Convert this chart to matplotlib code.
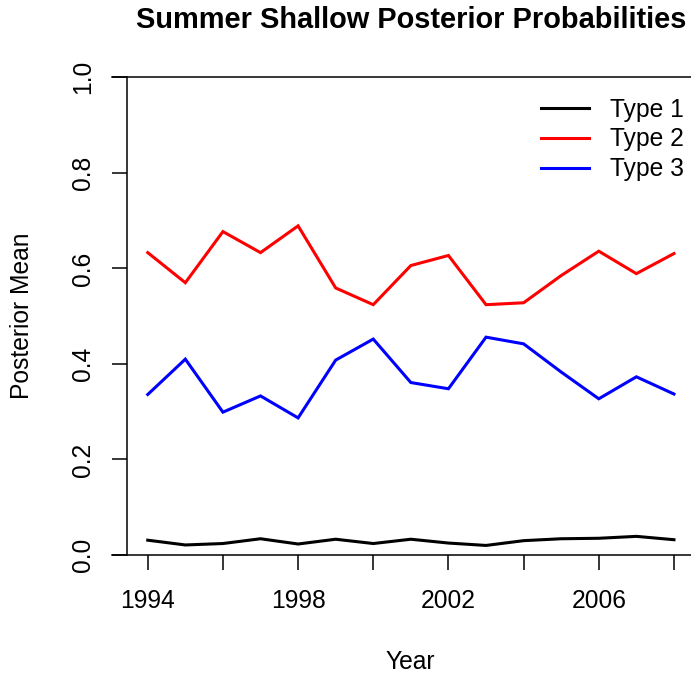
import matplotlib
matplotlib.use("Agg")
import matplotlib.pyplot as plt

years = list(range(1994, 2009))
type1 = [0.031, 0.021, 0.024, 0.034, 0.023, 0.033, 0.024, 0.033, 0.025, 0.020, 0.030, 0.034, 0.035, 0.039, 0.032]
type2 = [0.633, 0.570, 0.677, 0.633, 0.689, 0.559, 0.524, 0.606, 0.627, 0.524, 0.528, 0.585, 0.636, 0.589, 0.631]
type3 = [0.336, 0.410, 0.299, 0.333, 0.287, 0.408, 0.452, 0.361, 0.348, 0.456, 0.442, 0.383, 0.327, 0.373, 0.337]
series_names = ["Type 1", "Type 2", "Type 3"]
series_colors = ["black", "#FF0000", "#0000FF"]
xtick_pos = list(range(1994, 2009, 2))
xtick_labels = ["1994", "", "1998", "", "2002", "", "2006", ""]
ytick_pos = [0.0, 0.2, 0.4, 0.6, 0.8, 1.0]
ytick_labels = ["0.0", "0.2", "0.4", "0.6", "0.8", "1.0"]

plt.rcParams['font.family'] = ['Liberation Sans', 'DejaVu Sans']
FS = 17.7
W, H = 691, 679
fig = plt.figure(figsize=(W / 100, H / 100), dpi=100)

ax_l, ax_r = 126.7, 695.0
ax_t, ax_b = 58.2, 574.1
ax = fig.add_axes([ax_l / W, 1 - ax_b / H, (ax_r - ax_l) / W, (ax_b - ax_t) / H])
ax.set_xlim(1993.44, 2008.56)
ax.set_ylim(-0.04, 1.04)

for vals, name, col in zip([type1, type2, type3], series_names, series_colors):
    ax.plot(years, vals, color=col, lw=2.2, label=name, solid_joinstyle='miter')

for s in ["top", "right", "bottom"]:
    ax.spines[s].set_visible(False)
ax.spines["left"].set_bounds(0, 1)
ax.spines["left"].set_linewidth(1.1)

# horizontal lines at 0 and 1 extending past the axis
x0 = 1993.44 - 15 / 37.55
for yv in [0.0, 1.0]:
    ax.plot([x0, 2008.56], [yv, yv], color="black", lw=1.1, clip_on=False, zorder=1)

ax.set_xticks(xtick_pos)
ax.set_xticklabels(xtick_labels)
ax.set_yticks(ytick_pos)
ax.set_yticklabels(ytick_labels, rotation=90, va="center", ha="right")
ax.tick_params(axis="both", direction="out", length=10.8, width=1.1, labelsize=FS)
ax.tick_params(axis="x", pad=14)
ax.tick_params(axis="y", pad=12)
ax.xaxis.set_ticks_position("bottom")
ax.spines["bottom"].set_position(("data", 0))
ax.spines["bottom"].set_visible(False)

ax.set_xlabel("Year", fontsize=FS)
ax.set_ylabel("Posterior Mean", fontsize=FS)
axw = ax_r - ax_l
axh = ax_b - ax_t
ax.xaxis.set_label_coords((410.5 - ax_l) / axw, (ax_b - 650) / axh)
ax.yaxis.set_label_coords((34.5 - ax_l) / axw, 0.5)

ax.set_title("Summer Shallow Posterior Probabilities", fontsize=20.9,
             fontweight="bold", y=1 + (ax_t - 28) / axh, pad=0)

leg = ax.legend(loc="upper left", bbox_to_anchor=(541 / W, 1 - 97.5 / H),
                bbox_transform=fig.transFigure, frameon=False, fontsize=FS,
                handlelength=1.95, handletextpad=0.85, labelspacing=0.24,
                borderpad=0, borderaxespad=0)

fig.savefig("out.png", dpi=100)
